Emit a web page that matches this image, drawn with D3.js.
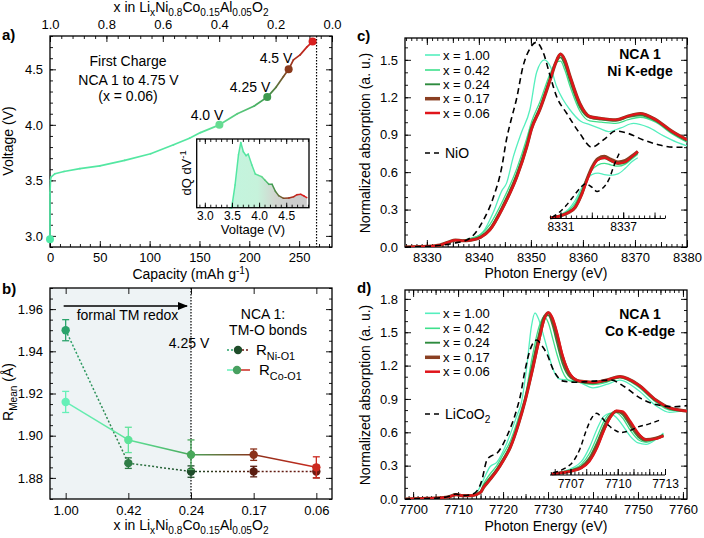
<!DOCTYPE html>
<html><head><meta charset="utf-8">
<script src="https://cdn.jsdelivr.net/npm/d3@7"></script>
<style>body{margin:0;background:#fff} svg{display:block}</style>
</head><body>
<script>
// ---------------- DATA ----------------
// Panel a: first charge curve
const capacity = [0, 0, 0.5, 1, 5, 14, 30, 50, 75, 101, 124, 140, 151, 170, 188, 205, 218, 227, 234.3, 239.5, 244.3, 251, 257.7, 263.5];
const voltage  = [2.97, 3.39, 3.50, 3.53, 3.56, 3.58, 3.605, 3.63, 3.68, 3.74, 3.82, 3.88, 3.93, 4.00, 4.10, 4.17, 4.25, 4.34, 4.435, 4.50, 4.585, 4.63, 4.70, 4.75];
const markerCap = [0, 170, 218, 239.5, 263.5];
const markerV = [2.97, 4.0, 4.25, 4.5, 4.75];
const markerLabels = ['', '4.0 V', '4.25 V', '4.5 V', ''];
const topTicksX = [1.0, 0.8, 0.6, 0.4, 0.2, 0.0];
const capTicks = [0, 50, 100, 150, 200, 250];
const voltTicks = [3.0, 3.5, 4.0, 4.5];
const cutoffCap = 267.5;
// inset dQ/dV
const dqdvV = [3.45, 3.495, 3.557, 3.62, 3.663, 3.71, 3.76, 3.80, 3.867, 3.93, 3.99, 4.05, 4.11, 4.18, 4.24, 4.30, 4.36, 4.45, 4.55, 4.64, 4.70, 4.77, 4.83, 4.88];
const dqdv  = [0, 0, 0.33, 0.77, 0.95, 0.815, 0.757, 0.78, 0.62, 0.49, 0.47, 0.45, 0.40, 0.34, 0.34, 0.24, 0.175, 0.137, 0.14, 0.16, 0.19, 0.195, 0.17, 0.146];

// Panel b: mean bond lengths
const xLabels = ['1.00', '0.42', '0.24', '0.17', '0.06'];
const rNi    = [1.950, 1.887, 1.883, 1.883, 1.883];
const rNiErr = [0.005, 0.0025, 0.0027, 0.0025, 0.003];
const rCo    = [1.916, 1.898, 1.891, 1.891, 1.885];
const rCoErr = [0.005, 0.006, 0.007, 0.0027, 0.005];
const rTicks = [1.88, 1.90, 1.92, 1.94, 1.96];

// Panel c: Ni K-edge
const seriesNames = ['x = 1.00', 'x = 0.42', 'x = 0.24', 'x = 0.17', 'x = 0.06'];
const niE100 = [8325.8, 8330, 8332.5, 8334.2, 8335.5, 8337, 8339, 8340.8, 8342.8, 8344.4, 8345.3, 8346.6, 8348.2, 8349.8, 8351.1, 8352.6, 8353.8, 8354.9, 8356.2, 8357.5, 8359.5, 8361.3, 8363.2, 8364.9, 8367.3, 8369.7, 8372.5, 8375.5, 8378, 8380];
const ni100  = [0.0, 0.005, 0.015, 0.045, 0.055, 0.055, 0.07, 0.12, 0.28, 0.45, 0.51, 0.72, 0.92, 1.10, 1.40, 1.50, 1.44, 1.29, 1.18, 1.10, 1.01, 0.98, 0.95, 0.925, 0.955, 0.99, 0.96, 0.89, 0.84, 0.81];
const niE = [8325.8, 8330, 8332.5, 8334.2, 8335.5, 8336.8, 8338.5, 8340.3, 8342.1, 8344.7, 8347.3, 8349.2, 8350.1, 8351.7, 8353.7, 8354.8, 8355.7, 8356.5, 8357.5, 8359.4, 8361.3, 8363.5, 8366.3, 8368.7, 8371.0, 8374.0, 8377.0, 8380];
const ni42 = [0.0, 0.005, 0.015, 0.04, 0.055, 0.055, 0.07, 0.10, 0.18, 0.38, 0.63, 0.87, 1.0, 1.16, 1.39, 1.48, 1.49, 1.42, 1.29, 1.09, 1.01, 1.0, 0.99, 1.02, 1.04, 1.0, 0.91, 0.84];
const ni24 = [0.0, 0.005, 0.015, 0.04, 0.055, 0.05, 0.06, 0.085, 0.15, 0.345, 0.59, 0.83, 0.965, 1.12, 1.36, 1.48, 1.52, 1.46, 1.33, 1.12, 1.035, 1.02, 1.01, 1.04, 1.055, 1.01, 0.92, 0.85];
const ni17 = [0.0, 0.005, 0.015, 0.04, 0.055, 0.05, 0.055, 0.077, 0.138, 0.325, 0.565, 0.805, 0.945, 1.10, 1.34, 1.48, 1.545, 1.50, 1.37, 1.15, 1.045, 1.03, 1.02, 1.05, 1.07, 1.02, 0.93, 0.86];
const ni06 = [0.0, 0.005, 0.015, 0.04, 0.055, 0.05, 0.055, 0.075, 0.134, 0.32, 0.56, 0.80, 0.94, 1.10, 1.34, 1.48, 1.547, 1.50, 1.37, 1.15, 1.045, 1.03, 1.02, 1.05, 1.07, 1.02, 0.93, 0.86];
const nioE = [8325.8, 8330, 8333, 8335, 8337.6, 8339.2, 8340.8, 8342.8, 8344.4, 8345.3, 8346.2, 8347.2, 8348.5, 8349.8, 8351.0, 8352.4, 8353.7, 8354.9, 8356.9, 8359.4, 8361.7, 8364.0, 8366.3, 8368.7, 8371.5, 8374.5, 8377.5, 8380];
const nio  = [0.0, 0.005, 0.015, 0.03, 0.054, 0.107, 0.21, 0.40, 0.64, 0.86, 1.02, 1.18, 1.45, 1.59, 1.64, 1.555, 1.37, 1.21, 1.07, 0.91, 0.80, 0.86, 0.93, 0.91, 0.86, 0.82, 0.80, 0.80];
// Ni pre-edge inset
const niInE = [8330.0, 8331.0, 8331.8, 8332.4, 8333.0, 8333.5, 8334.0, 8334.6, 8335.2, 8335.8, 8336.5, 8337.2, 8337.8, 8338.4];
const niIn100 = [0.0, 0.045, 0.13, 0.25, 0.42, 0.55, 0.62, 0.64, 0.62, 0.61, 0.63, 0.71, 0.80, 0.86];
const niIn42  = [0.0, 0.04, 0.11, 0.21, 0.38, 0.55, 0.68, 0.76, 0.78, 0.76, 0.74, 0.77, 0.84, 0.91];
const niIn24  = [0.0, 0.035, 0.09, 0.17, 0.35, 0.55, 0.72, 0.83, 0.85, 0.81, 0.77, 0.79, 0.86, 0.93];
const niIn17  = [0.0, 0.03, 0.08, 0.15, 0.33, 0.54, 0.72, 0.85, 0.88, 0.84, 0.80, 0.82, 0.88, 0.95];
const niIn06  = [0.0, 0.03, 0.08, 0.15, 0.32, 0.52, 0.70, 0.83, 0.86, 0.82, 0.78, 0.80, 0.87, 0.95];
const nioInE = [8330.2, 8330.8, 8331.5, 8332.2, 8332.9, 8333.4, 8334.0, 8334.5, 8335.0, 8335.6, 8336.2, 8336.7];
const nioIn  = [0.01, 0.07, 0.17, 0.30, 0.43, 0.49, 0.44, 0.38, 0.42, 0.54, 0.78, 0.95];

// Panel d: Co K-edge
const coE100 = [7698, 7703, 7706, 7708, 7709.2, 7710.5, 7713, 7714.5, 7715.6, 7717.1, 7718.6, 7720.8, 7723.0, 7724.1, 7725.3, 7726.3, 7727.1, 7727.9, 7728.8, 7729.7, 7731.0, 7732.5, 7734.5, 7737, 7740, 7743, 7746, 7750, 7754, 7757, 7761];
const co100  = [0, 0.005, 0.01, 0.025, 0.045, 0.03, 0.035, 0.08, 0.17, 0.29, 0.33, 0.50, 0.74, 0.87, 1.20, 1.55, 1.673, 1.62, 1.50, 1.37, 1.18, 1.08, 1.07, 1.05, 1.0, 1.03, 1.07, 0.98, 0.84, 0.78, 0.80];
const coE = [7698, 7703, 7706, 7708, 7709.6, 7711, 7713, 7715, 7715.6, 7717, 7718.6, 7720, 7721.6, 7723.5, 7724.9, 7726.5, 7728.0, 7729.2, 7730.1, 7731.0, 7732.0, 7733.2, 7735, 7737, 7740, 7743, 7746, 7750, 7754, 7757, 7761];
const co42 = [0, 0.005, 0.01, 0.022, 0.043, 0.03, 0.033, 0.07, 0.13, 0.22, 0.30, 0.40, 0.52, 0.74, 0.92, 1.28, 1.55, 1.64, 1.58, 1.45, 1.30, 1.15, 1.06, 1.05, 1.03, 1.05, 1.09, 1.01, 0.87, 0.80, 0.79];
const co24 = [0, 0.005, 0.01, 0.021, 0.041, 0.03, 0.031, 0.065, 0.115, 0.19, 0.27, 0.36, 0.48, 0.70, 0.90, 1.21, 1.49, 1.65, 1.65, 1.56, 1.40, 1.22, 1.09, 1.055, 1.04, 1.06, 1.095, 1.02, 0.88, 0.81, 0.79];
const co17 = [0, 0.005, 0.01, 0.02, 0.04, 0.03, 0.03, 0.06, 0.10, 0.17, 0.255, 0.345, 0.465, 0.685, 0.885, 1.16, 1.44, 1.63, 1.675, 1.61, 1.47, 1.28, 1.11, 1.06, 1.05, 1.07, 1.10, 1.03, 0.89, 0.82, 0.79];
const co06 = [0, 0.005, 0.01, 0.02, 0.04, 0.03, 0.03, 0.06, 0.10, 0.17, 0.25, 0.34, 0.46, 0.68, 0.88, 1.15, 1.42, 1.62, 1.68, 1.63, 1.50, 1.30, 1.12, 1.06, 1.05, 1.07, 1.10, 1.03, 0.89, 0.82, 0.79];
const lcoE = [7698, 7703, 7706, 7708, 7709.5, 7711, 7713, 7714.5, 7715.3, 7716.4, 7717.5, 7718.6, 7720.8, 7723.0, 7723.8, 7724.9, 7726.0, 7727.5, 7728.6, 7729.7, 7731.2, 7733.4, 7736, 7740, 7744, 7747, 7750.4, 7754, 7758, 7761];
const lco  = [0, 0.005, 0.01, 0.025, 0.045, 0.03, 0.04, 0.09, 0.17, 0.35, 0.39, 0.41, 0.56, 0.80, 0.92, 1.16, 1.34, 1.43, 1.38, 1.31, 1.16, 1.06, 1.05, 1.06, 1.07, 1.01, 0.91, 0.85, 0.83, 0.84];
// Co pre-edge inset
const coInE = [7705.8, 7706.5, 7707.2, 7707.7, 7708.2, 7708.7, 7709.1, 7709.5, 7709.9, 7710.3, 7710.8, 7711.3, 7711.8, 7712.4, 7712.9];
const coIn100 = [0.0, 0.035, 0.10, 0.19, 0.40, 0.69, 0.87, 0.92, 0.86, 0.74, 0.57, 0.47, 0.45, 0.52, 0.62];
const coIn42  = [0.0, 0.03, 0.08, 0.15, 0.31, 0.57, 0.79, 0.92, 0.93, 0.85, 0.66, 0.52, 0.48, 0.53, 0.60];
const coIn24  = [0.0, 0.025, 0.065, 0.12, 0.25, 0.49, 0.72, 0.89, 0.95, 0.90, 0.72, 0.56, 0.50, 0.54, 0.59];
const coIn17  = [0.0, 0.02, 0.055, 0.10, 0.21, 0.43, 0.67, 0.86, 0.95, 0.93, 0.77, 0.60, 0.52, 0.54, 0.58];
const coIn06  = [0.0, 0.02, 0.05, 0.09, 0.19, 0.40, 0.64, 0.84, 0.96, 0.95, 0.80, 0.62, 0.52, 0.53, 0.58];
const lcoInE = [7705.9, 7706.6, 7707.2, 7707.6, 7708.0, 7708.35, 7708.65, 7709.0, 7709.45, 7709.85, 7710.2, 7710.7, 7711.25, 7712.0, 7712.7];
const lcoIn  = [0.02, 0.08, 0.20, 0.38, 0.66, 0.85, 0.92, 0.85, 0.73, 0.66, 0.63, 0.65, 0.71, 0.76, 0.82];

// ---------------- STYLE ----------------
const FONT = "'Liberation Sans', Arial, Helvetica, sans-serif";
const seriesColors = ['#55efbe', '#3fe08c', '#2e8b3e', '#8a3f22', '#e0141a'];
const seriesWidths = [1.3, 1.3, 1.6, 3.2, 2.2];

const svg = d3.select('body').append('svg').attr('width', 704).attr('height', 538).attr('font-family', FONT);
const defs = svg.append('defs');
let gid = 0;
function segGrad(x1, y1, x2, y2, c1, c2) {
  const id = 'sg' + (gid++);
  const lg = defs.append('linearGradient').attr('id', id).attr('gradientUnits', 'userSpaceOnUse')
    .attr('x1', x1).attr('y1', y1).attr('x2', x2 + (x1 === x2 && y1 === y2 ? 0.01 : 0)).attr('y2', y2);
  lg.append('stop').attr('offset', 0).attr('stop-color', c1);
  lg.append('stop').attr('offset', 1).attr('stop-color', c2);
  return `url(#${id})`;
}
function addAxis(gen, scale, tr, vals, size, fmt, pad, fs) {
  const g = svg.append('g').attr('transform', tr)
    .call(gen(scale).tickValues(vals).tickSize(size).tickPadding(pad == null ? 6 : pad).tickFormat(fmt || (() => '')));
  g.attr('font-family', FONT).attr('font-size', fs || 13);
  g.select('.domain').remove();
  g.selectAll('.tick line').attr('stroke', '#000').attr('stroke-width', 0.9);
  g.selectAll('.tick text').attr('fill', '#000');
  return g;
}
function frame(l, t, r, b) {
  svg.append('rect').attr('x', l).attr('y', t).attr('width', r - l).attr('height', b - t)
    .attr('fill', 'none').attr('stroke', '#000').attr('stroke-width', 1.3);
}
function rich(parent, x, y, parts, size, anchor, rot) {
  const t = parent.append('text').attr('font-size', size).attr('text-anchor', anchor || 'start').attr('fill', '#000');
  if (rot) t.attr('transform', `translate(${x},${y}) rotate(-90)`); else t.attr('x', x).attr('y', y);
  let shift = 0;
  parts.forEach(([s, type]) => {
    const target = type === 'sub' ? size * 0.32 : type === 'sup' ? -size * 0.38 : 0;
    t.append('tspan').attr('dy', target - shift).attr('font-size', type ? size * 0.72 : size).text(s);
    shift = target;
  });
  return t;
}
function label(x, y, s, size, anchor, weight) {
  return svg.append('text').attr('x', x).attr('y', y).attr('font-size', size).attr('text-anchor', anchor || 'start')
    .attr('font-weight', weight || 'normal').attr('fill', '#000').text(s);
}
const range = (a, b, s) => d3.range(Math.round(a / s), Math.round(b / s) + 1).map(i => +(i * s).toFixed(6));

// ================= PANEL A =================
const A = {l: 50, t: 36, r: 332, b: 247};
const capX = d3.scaleLinear().domain([0, 283]).range([A.l, A.r]);
const liX = d3.scaleLinear().domain([1, 0]).range([A.l, A.r]);
const voltY = d3.scaleLinear().domain([2.9, 4.8]).range([A.b, A.t]);
const vColor = d3.scaleLinear().domain([3.0, 3.9, 4.05, 4.25, 4.5, 4.75])
  .range(['#4fe9a7', '#55e6a0', '#62da8e', '#3f9a4f', '#8a3a1c', '#d81e1e']).clamp(true);

addAxis(d3.axisBottom, capX, `translate(0,${A.b})`, range(0, 280, 10), -3);
addAxis(d3.axisBottom, capX, `translate(0,${A.b})`, capTicks, -6, d3.format('d'), 6);
addAxis(d3.axisTop, liX, `translate(0,${A.t})`, range(0, 1, 0.04), -3);
addAxis(d3.axisTop, liX, `translate(0,${A.t})`, topTicksX, -6, d3.format('.1f'), 7);
addAxis(d3.axisLeft, voltY, `translate(${A.l},0)`, range(2.9, 4.8, 0.1), -3);
addAxis(d3.axisLeft, voltY, `translate(${A.l},0)`, voltTicks, -6, d3.format('.1f'), 7);
addAxis(d3.axisRight, voltY, `translate(${A.r},0)`, range(2.9, 4.8, 0.1), -3);
addAxis(d3.axisRight, voltY, `translate(${A.r},0)`, voltTicks, -6);
frame(A.l, A.t, A.r, A.b);
svg.append('line').attr('x1', capX(cutoffCap)).attr('x2', capX(cutoffCap)).attr('y1', A.t).attr('y2', A.b)
  .attr('stroke', '#000').attr('stroke-width', 1.2).attr('stroke-dasharray', '1.5,1.5');

const aCurve = svg.append('g');
for (let i = 0; i < capacity.length - 1; i++) {
  const x1 = capX(capacity[i]), y1 = voltY(voltage[i]), x2 = capX(capacity[i + 1]), y2 = voltY(voltage[i + 1]);
  aCurve.append('line').attr('x1', x1).attr('y1', y1).attr('x2', x2).attr('y2', y2)
    .attr('stroke', segGrad(x1, y1, x2, y2, vColor(voltage[i]), vColor(voltage[i + 1])))
    .attr('stroke-width', 1.7).attr('stroke-linecap', 'round');
}
const markerColors = ['#4fe9a7', '#66dc92', '#3f9a4f', '#8a3a1c', '#d81e1e'];
markerCap.forEach((c, i) => {
  svg.append('circle').attr('cx', capX(c)).attr('cy', voltY(markerV[i])).attr('r', 4).attr('fill', markerColors[i]);
});
const mlPos = [null, [207, 120], [250, 92], [276, 63], null];
markerLabels.forEach((s, i) => { if (s) label(mlPos[i][0], mlPos[i][1], s, 14, 'middle'); });
label(128, 66, 'First Charge', 14, 'middle');
label(128.5, 85, 'NCA 1 to 4.75 V', 14, 'middle');
label(128, 101, '(x = 0.06)', 14, 'middle');

rich(svg, 191, 12, [['x in Li'], ['x', 'sub'], ['Ni'], ['0.8', 'sub'], ['Co'], ['0.15', 'sub'], ['Al'], ['0.05', 'sub'], ['O'], ['2', 'sub']], 14, 'middle');
rich(svg, 191, 279, [['Capacity (mAh g'], ['-1', 'sup'], [')']], 14, 'middle');
label(0, 0, 'Voltage (V)', 14, 'middle').attr('x', null).attr('y', null).attr('transform', 'translate(13,141) rotate(-90)');
label(2, 40, 'a)', 15, 'start', 'bold');

// inset a
const I = {l: 196.7, t: 139, r: 309, b: 207.7};
const ix = d3.scaleLinear().domain([2.85, 4.92]).range([I.l, I.r]);
const iy = d3.scaleLinear().domain([0, 1]).range([I.b, I.t]);
svg.append('rect').attr('x', I.l).attr('y', I.t).attr('width', I.r - I.l).attr('height', I.b - I.t).attr('fill', '#fff');
const fillId = 'insetFill';
const fg = defs.append('linearGradient').attr('id', fillId).attr('gradientUnits', 'userSpaceOnUse')
  .attr('x1', ix(3.45)).attr('x2', ix(4.9)).attr('y1', 0).attr('y2', 0);
[[0, '#c3f5de'], [0.36, '#c6f2db'], [0.58, '#d2d6d0'], [0.75, '#cdcdcd'], [1, '#cccccc']].forEach(([o, c]) =>
  fg.append('stop').attr('offset', o).attr('stop-color', c));
const dqPts = dqdvV.map((v, i) => [v, dqdv[i]]);
svg.append('path').datum(dqPts)
  .attr('d', d3.area().x(d => ix(d[0])).y0(iy(0)).y1(d => iy(d[1])))
  .attr('fill', `url(#${fillId})`);
const iCurve = svg.append('g');
for (let i = 0; i < dqdvV.length - 1; i++) {
  const x1 = ix(dqdvV[i]), y1 = iy(dqdv[i]), x2 = ix(dqdvV[i + 1]), y2 = iy(dqdv[i + 1]);
  iCurve.append('line').attr('x1', x1).attr('y1', y1).attr('x2', x2).attr('y2', y2)
    .attr('stroke', segGrad(x1, y1, x2, y2, vColor(dqdvV[i]), vColor(dqdvV[i + 1])))
    .attr('stroke-width', 1.5).attr('stroke-linecap', 'round');
}
addAxis(d3.axisBottom, ix, `translate(0,${I.b})`, range(2.9, 4.9, 0.1), -3);
addAxis(d3.axisBottom, ix, `translate(0,${I.b})`, [3.0, 3.5, 4.0, 4.5], -5, d3.format('.1f'), 4, 12);
addAxis(d3.axisTop, ix, `translate(0,${I.t})`, range(2.9, 4.9, 0.1), -3);
addAxis(d3.axisTop, ix, `translate(0,${I.t})`, [3.0, 3.5, 4.0, 4.5], -5);
frame(I.l, I.t, I.r, I.b);
label(253, 234, 'Voltage (V)', 13, 'middle');
rich(svg, 191, 173, [['dQ dV'], ['-1', 'sup']], 13, 'middle', true);

// ================= PANEL B =================
const B = {l: 50, t: 288, r: 332, b: 499};
const bx = d3.scaleLinear().domain([-0.25, 4.25]).range([B.l, B.r]);
const by = d3.scaleLinear().domain([1.87, 1.97]).range([B.b, B.t]);
svg.append('rect').attr('x', B.l).attr('y', B.t).attr('width', bx(2) - B.l).attr('height', B.b - B.t).attr('fill', '#eef3f5');
svg.append('line').attr('x1', bx(2)).attr('x2', bx(2)).attr('y1', B.t).attr('y2', B.b)
  .attr('stroke', '#000').attr('stroke-width', 1.2).attr('stroke-dasharray', '1.5,1.5');
const idx = xLabels.map((_, i) => i);
addAxis(d3.axisBottom, bx, `translate(0,${B.b})`, idx, -6, i => xLabels[i], 7);
addAxis(d3.axisTop, bx, `translate(0,${B.t})`, idx, -6);
addAxis(d3.axisLeft, by, `translate(${B.l},0)`, range(1.87, 1.97, 0.005), -3);
addAxis(d3.axisLeft, by, `translate(${B.l},0)`, rTicks, -6, d3.format('.2f'), 7);
addAxis(d3.axisRight, by, `translate(${B.r},0)`, range(1.87, 1.97, 0.005), -3);
addAxis(d3.axisRight, by, `translate(${B.r},0)`, rTicks, -6);
frame(B.l, B.t, B.r, B.b);

const niCols = ['#2aa36b', '#2f7d46', '#1f4d2a', '#5a1c10', '#6b1a12'];
const coCols = ['#66f0b8', '#5fe39a', '#48a85a', '#8a3019', '#cc2a20'];
function bSeries(vals, errs, cols, dash) {
  const g = svg.append('g');
  for (let i = 0; i < vals.length - 1; i++) {
    const x1 = bx(i), y1 = by(vals[i]), x2 = bx(i + 1), y2 = by(vals[i + 1]);
    g.append('line').attr('x1', x1).attr('y1', y1).attr('x2', x2).attr('y2', y2)
      .attr('stroke', segGrad(x1, y1, x2, y2, cols[i], cols[i + 1])).attr('stroke-width', 1.5)
      .attr('stroke-dasharray', dash || null);
  }
  vals.forEach((v, i) => {
    const x = bx(i), y0 = by(v - errs[i]), y1 = by(v + errs[i]);
    g.append('line').attr('x1', x).attr('x2', x).attr('y1', y0).attr('y2', y1).attr('stroke', cols[i]).attr('stroke-width', 1.3);
    [y0, y1].forEach(yy => g.append('line').attr('x1', x - 3.5).attr('x2', x + 3.5).attr('y1', yy).attr('y2', yy).attr('stroke', cols[i]).attr('stroke-width', 1.3));
    g.append('circle').attr('cx', x).attr('cy', by(v)).attr('r', 4.2).attr('fill', cols[i]);
  });
}
bSeries(rNi, rNiErr, niCols, '2,2');
bSeries(rCo, rCoErr, coCols, null);

// arrow
defs.append('marker').attr('id', 'arrowHead').attr('viewBox', '0 0 10 10').attr('refX', 9).attr('refY', 5)
  .attr('markerWidth', 7).attr('markerHeight', 7).attr('orient', 'auto')
  .append('path').attr('d', 'M0,1 L10,5 L0,9 Z').attr('fill', '#000');
svg.append('line').attr('x1', bx(0) - 2).attr('x2', bx(2) - 4).attr('y1', 306).attr('y2', 306)
  .attr('stroke', '#000').attr('stroke-width', 1.5).attr('marker-end', 'url(#arrowHead)');
label(127.5, 320, 'formal TM redox', 14, 'middle');
label(189, 348, '4.25 V', 14, 'middle');
label(263, 319, 'NCA 1:', 14, 'middle');
label(268, 335, 'TM-O bonds', 14, 'middle');
// legend b
svg.append('line').attr('x1', 227).attr('x2', 238).attr('y1', 350).attr('y2', 350).attr('stroke', '#2aa36b').attr('stroke-width', 1.5).attr('stroke-dasharray', '2,2');
svg.append('line').attr('x1', 238).attr('x2', 250).attr('y1', 350).attr('y2', 350).attr('stroke', '#6b1a12').attr('stroke-width', 1.5).attr('stroke-dasharray', '2,2');
svg.append('circle').attr('cx', 238).attr('cy', 350).attr('r', 4.2).attr('fill', '#1f4d2a');
rich(svg, 256, 355, [['R'], ['Ni-O1', 'sub']], 15, 'start');
svg.append('line').attr('x1', 227).attr('x2', 237).attr('y1', 370).attr('y2', 370).attr('stroke', '#66f0b8').attr('stroke-width', 1.5);
svg.append('line').attr('x1', 237).attr('x2', 250).attr('y1', 370).attr('y2', 370).attr('stroke', '#cc2a20').attr('stroke-width', 1.5);
svg.append('circle').attr('cx', 237).attr('cy', 370).attr('r', 4.2).attr('fill', '#48a060');
rich(svg, 259, 375, [['R'], ['Co-O1', 'sub']], 15, 'start');

rich(svg, 191, 530, [['x in Li'], ['x', 'sub'], ['Ni'], ['0.8', 'sub'], ['Co'], ['0.15', 'sub'], ['Al'], ['0.05', 'sub'], ['O'], ['2', 'sub']], 14, 'middle');
rich(svg, 13, 392, [['R'], ['Mean', 'sub'], [' (Å)']], 14, 'middle', true);
label(2, 294, 'b)', 15, 'start', 'bold');

// ================= PANELS C & D =================
function spectraPanel(P, xDom, yDom, xMaj, yMaj, series, ref, refName, inset, tag, tagY, edge) {
  const x = d3.scaleLinear().domain(xDom).range([P.l, P.r]);
  const y = d3.scaleLinear().domain(yDom).range([P.b, P.t]);
  const cid = 'clip' + tag;
  defs.append('clipPath').attr('id', cid).append('rect').attr('x', P.l).attr('y', P.t).attr('width', P.r - P.l).attr('height', P.b - P.t);
  const minorX = range(Math.ceil(xDom[0]), Math.floor(xDom[1]), 1);
  const midX = minorX.filter(v => v % 5 === 0);
  addAxis(d3.axisBottom, x, `translate(0,${P.b})`, minorX, -3);
  addAxis(d3.axisBottom, x, `translate(0,${P.b})`, midX, -5);
  addAxis(d3.axisBottom, x, `translate(0,${P.b})`, xMaj, -7, d3.format('d'), 6);
  addAxis(d3.axisTop, x, `translate(0,${P.t})`, minorX, -3);
  addAxis(d3.axisTop, x, `translate(0,${P.t})`, midX, -5);
  addAxis(d3.axisTop, x, `translate(0,${P.t})`, xMaj, -7);
  const minorY = range(0, Math.floor(yDom[1] * 10) / 10, 0.1);
  addAxis(d3.axisLeft, y, `translate(${P.l},0)`, minorY, -3);
  addAxis(d3.axisLeft, y, `translate(${P.l},0)`, yMaj, -6, d3.format('.1f'), 7);
  addAxis(d3.axisRight, y, `translate(${P.r},0)`, minorY, -3);
  addAxis(d3.axisRight, y, `translate(${P.r},0)`, yMaj, -6);
  frame(P.l, P.t, P.r, P.b);
  const line = d3.line().curve(d3.curveMonotoneX).x(d => x(d[0])).y(d => y(d[1]));
  const g = svg.append('g').attr('clip-path', `url(#${cid})`);
  series.forEach((s, i) => {
    g.append('path').datum(s.E.map((e, k) => [e, s.v[k]])).attr('d', line)
      .attr('fill', 'none').attr('stroke', seriesColors[i]).attr('stroke-width', seriesWidths[i]).attr('stroke-linejoin', 'round');
  });
  g.append('path').datum(ref.E.map((e, k) => [e, ref.v[k]])).attr('d', line)
    .attr('fill', 'none').attr('stroke', '#000').attr('stroke-width', 1.6).attr('stroke-dasharray', '6,4');

  // inset
  const ixs = d3.scaleLinear().domain(inset.dom).range([550, 665]);
  const iys = d3.scaleLinear().domain([0, 1]).range([inset.base, inset.top]);
  const il = d3.line().curve(d3.curveMonotoneX).x(d => ixs(d[0])).y(d => iys(d[1]));
  inset.series.forEach((s, i) => {
    svg.append('path').datum(s.E.map((e, k) => [e, s.v[k]])).attr('d', il)
      .attr('fill', 'none').attr('stroke', seriesColors[i]).attr('stroke-width', seriesWidths[i]).attr('stroke-linejoin', 'round');
  });
  svg.append('path').datum(inset.ref.E.map((e, k) => [e, inset.ref.v[k]])).attr('d', il)
    .attr('fill', 'none').attr('stroke', '#000').attr('stroke-width', 1.5).attr('stroke-dasharray', '5,3.5');
  svg.append('line').attr('x1', 550).attr('x2', 665).attr('y1', inset.axisY).attr('y2', inset.axisY).attr('stroke', '#000').attr('stroke-width', 1.1);
  addAxis(d3.axisBottom, ixs, `translate(0,${inset.axisY})`, inset.minor, -3);
  addAxis(d3.axisBottom, ixs, `translate(0,${inset.axisY})`, inset.long, -6);
  addAxis(d3.axisBottom, ixs, `translate(0,${inset.axisY})`, inset.labels, -6, d3.format('d'), 4, 12);

  // legend
  P.legY.forEach((ly, i) => {
    svg.append('line').attr('x1', 425).attr('x2', 440).attr('y1', ly).attr('y2', ly)
      .attr('stroke', seriesColors[i]).attr('stroke-width', seriesWidths[i] + 0.3);
    label(443, ly + 4.5, seriesNames[i], 13, 'start');
  });
  svg.append('line').attr('x1', 425).attr('x2', 440).attr('y1', P.refY).attr('y2', P.refY)
    .attr('stroke', '#000').attr('stroke-width', 1.5).attr('stroke-dasharray', '5,4');
  rich(svg, 445, P.refY + 5, refName, 14, 'start');
  label(640, tagY, 'NCA 1', 14, 'middle', 'bold');
  label(640, tagY + 17.5, edge, 14, 'middle', 'bold');
  return {x, y};
}

const C = {l: 405, t: 38, r: 687, b: 247, legY: [55, 70, 84.3, 98.7, 113], refY: 153};
spectraPanel(C, [8325.8, 8380], [0, 1.675], [8330, 8340, 8350, 8360, 8370, 8380], [0, 0.3, 0.6, 0.9, 1.2, 1.5],
  [{E: niE100, v: ni100}, {E: niE, v: ni42}, {E: niE, v: ni24}, {E: niE, v: ni17}, {E: niE, v: ni06}],
  {E: nioE, v: nio}, [['NiO']],
  {dom: [8330, 8341], base: 218, top: 148, axisY: 218.5,
   minor: range(8330, 8341, 0.5), long: [8331, 8334, 8337, 8340], labels: [8331, 8337],
   series: [{E: niInE, v: niIn100}, {E: niInE, v: niIn42}, {E: niInE, v: niIn24}, {E: niInE, v: niIn17}, {E: niInE, v: niIn06}],
   ref: {E: nioInE, v: nioIn}},
  'C', 58.5, 'Ni K-edge');

const D = {l: 405, t: 290, r: 687, b: 499, legY: [313.3, 328.3, 342.7, 357.3, 371.7], refY: 414};
spectraPanel(D, [7698.2, 7760.9], [0, 1.88], [7700, 7710, 7720, 7730, 7740, 7750, 7760], [0, 0.3, 0.6, 0.9, 1.2, 1.5, 1.8],
  [{E: coE100, v: co100}, {E: coE, v: co42}, {E: coE, v: co24}, {E: coE, v: co17}, {E: coE, v: co06}],
  {E: lcoE, v: lco}, [['LiCoO'], ['2', 'sub']],
  {dom: [7705.7, 7713], base: 474, top: 408, axisY: 475,
   minor: range(7705.75, 7713, 0.25), long: [7706, 7707, 7708, 7709, 7710, 7711, 7712, 7713], labels: [7707, 7710, 7713],
   series: [{E: coInE, v: coIn100}, {E: coInE, v: coIn42}, {E: coInE, v: coIn24}, {E: coInE, v: coIn17}, {E: coInE, v: coIn06}],
   ref: {E: lcoInE, v: lcoIn}},
  'D', 318.5, 'Co K-edge');

label(546, 278, 'Photon Energy (eV)', 14, 'middle');
label(546, 531, 'Photon Energy (eV)', 14, 'middle');
label(0, 0, 'Normalized absorption (a. u.)', 14, 'middle').attr('x', null).attr('y', null).attr('transform', 'translate(370,143) rotate(-90)');
label(0, 0, 'Normalized absorption (a. u.)', 14, 'middle').attr('x', null).attr('y', null).attr('transform', 'translate(370,395) rotate(-90)');
label(357, 41, 'c)', 15, 'start', 'bold');
label(357, 293, 'd)', 15, 'start', 'bold');
</script></body></html>
